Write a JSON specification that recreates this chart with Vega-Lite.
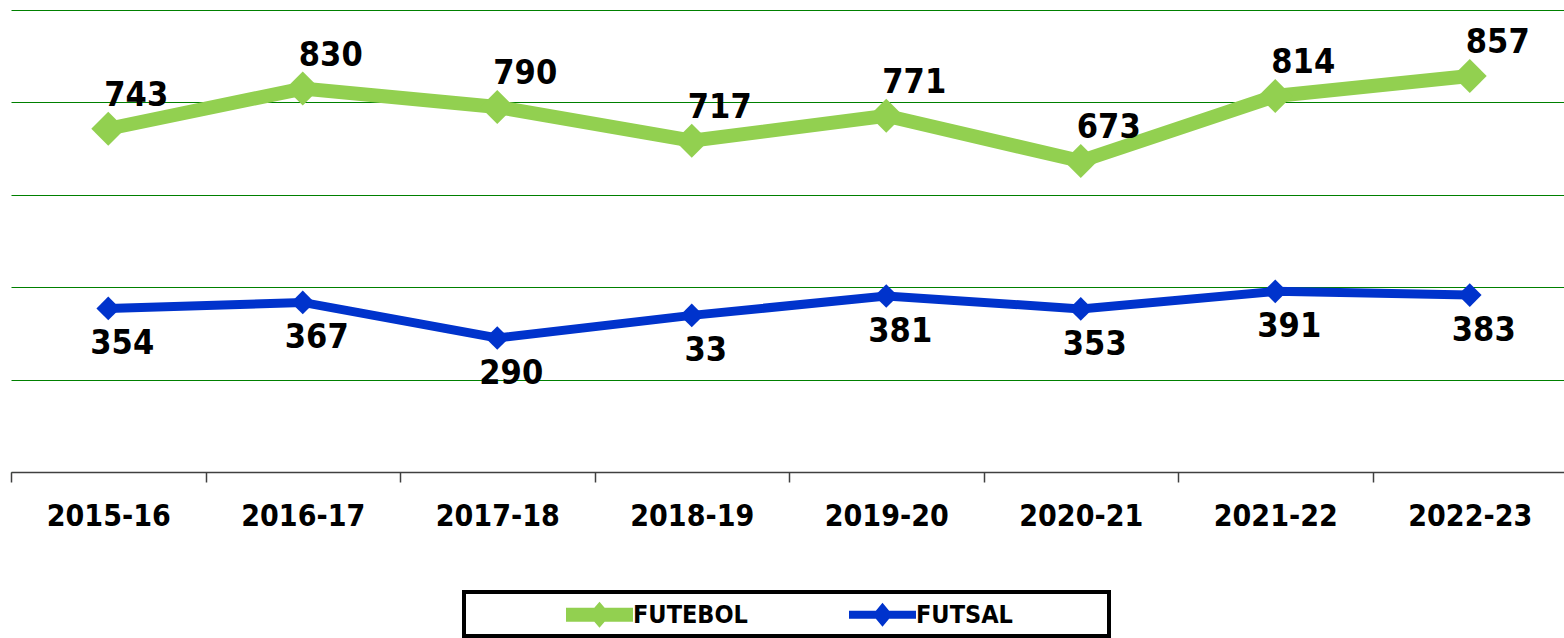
{
  "$schema": "https://vega.github.io/schema/vega-lite/v6.json",
  "width": 1556,
  "height": 462,
  "padding": {"left": 10, "top": 10, "right": 0, "bottom": 0},
  "background": "white",
  "config": {
    "view": {"stroke": null},
    "font": "DejaVu Sans Condensed, sans-serif"
  },
  "data": {
    "values": [
      {"season": "2015-16", "series": "FUTEBOL", "value": 743, "label": "743"},
      {"season": "2016-17", "series": "FUTEBOL", "value": 830, "label": "830"},
      {"season": "2017-18", "series": "FUTEBOL", "value": 790, "label": "790"},
      {"season": "2018-19", "series": "FUTEBOL", "value": 717, "label": "717"},
      {"season": "2019-20", "series": "FUTEBOL", "value": 771, "label": "771"},
      {"season": "2020-21", "series": "FUTEBOL", "value": 673, "label": "673"},
      {"season": "2021-22", "series": "FUTEBOL", "value": 814, "label": "814"},
      {"season": "2022-23", "series": "FUTEBOL", "value": 857, "label": "857"},
      {"season": "2015-16", "series": "FUTSAL", "value": 354, "label": "354"},
      {"season": "2016-17", "series": "FUTSAL", "value": 367, "label": "367"},
      {"season": "2017-18", "series": "FUTSAL", "value": 290, "label": "290"},
      {"season": "2018-19", "series": "FUTSAL", "value": 339, "label": "33"},
      {"season": "2019-20", "series": "FUTSAL", "value": 381, "label": "381"},
      {"season": "2020-21", "series": "FUTSAL", "value": 353, "label": "353"},
      {"season": "2021-22", "series": "FUTSAL", "value": 391, "label": "391"},
      {"season": "2022-23", "series": "FUTSAL", "value": 383, "label": "383"}
    ]
  },
  "encoding": {
    "x": {
      "field": "season",
      "type": "nominal",
      "sort": null,
      "scale": {"paddingInner": 0, "paddingOuter": 0},
      "axis": {
        "title": null,
        "labelAngle": 0,
        "labelFontSize": 30,
        "labelFontWeight": "bold",
        "labelColor": "black",
        "labelPadding": 19,
        "tickBand": "extent",
        "tickSize": 10,
        "tickColor": "#404040",
        "tickWidth": 1.5,
        "domainColor": "#404040",
        "domainWidth": 1.5,
        "grid": false
      }
    },
    "y": {
      "field": "value",
      "type": "quantitative",
      "scale": {"domain": [0, 1000], "nice": false},
      "axis": {
        "title": null,
        "values": [0, 200, 400, 600, 800, 1000],
        "labels": false,
        "ticks": false,
        "domain": false,
        "grid": true,
        "gridColor": "#008000",
        "gridWidth": 1.2,
        "gridOpacity": 1
      }
    },
    "color": {
      "field": "series",
      "type": "nominal",
      "scale": {"domain": ["FUTEBOL", "FUTSAL"], "range": ["#92D050", "#0033CC"]},
      "legend": {
        "title": "\u00a0",
        "titleOrient": "right",
        "titlePadding": 88,
        "titleFontSize": 10,
        "orient": "none",
        "legendX": 453,
        "legendY": 582,
        "direction": "horizontal",
        "strokeColor": "black",
        "fillColor": "white",
        "padding": 8,
        "symbolOffset": 94,
        "columnPadding": 7,
        "labelOffset": 38,
        "labelFontSize": 25,
        "labelFontWeight": "bold",
        "labelColor": "black",
        "labelLimit": 600,
        "symbolSize": 841,
        "symbolStrokeWidth": 0,
        "encode": {
          "legend": {"update": {"strokeWidth": {"value": 4}}},
          "symbols": {"update": {
            "fill": {"scale": "color", "field": "value"},
            "size": {"value": 841},
            "shape": {"signal": "datum.value == 'FUTEBOL' ? 'M-1,-0.48L0.955,-0.48L1.31,-0.9L1.665,-0.48L3.62,-0.48L3.62,0.48L1.665,0.48L1.31,0.9L0.955,0.48L-1,0.48Z' : 'M-1,-0.28L0.853,-0.28L1.31,-0.83L1.767,-0.28L3.62,-0.28L3.62,0.28L1.767,0.28L1.31,0.83L0.853,0.28L-1,0.28Z'"},
            "strokeWidth": {"value": 0},
            "opacity": {"value": 1}
          }}
        }
      }
    }
  },
  "layer": [
    {
      "transform": [{"filter": "datum.series == 'FUTEBOL'"}],
      "mark": {"type": "line", "strokeJoin": "miter", "strokeWidth": 14},
      "encoding": {}
    },
    {
      "transform": [{"filter": "datum.series == 'FUTSAL'"}],
      "mark": {"type": "line", "strokeJoin": "miter", "strokeWidth": 9},
      "encoding": {}
    },
    {
      "transform": [{"filter": "datum.series == 'FUTEBOL'"}],
      "mark": {"type": "point", "shape": "diamond", "filled": true, "opacity": 1, "size": 1150},
      "encoding": {}
    },
    {
      "transform": [{"filter": "datum.series == 'FUTSAL'"}],
      "mark": {"type": "point", "shape": "diamond", "filled": true, "opacity": 1, "size": 560},
      "encoding": {}
    },
    {
      "transform": [{"filter": "datum.series == 'FUTEBOL'"}],
      "mark": {"type": "text", "dx": 28, "dy": -33, "fontSize": 34, "fontWeight": "bold", "color": "black", "baseline": "middle"},
      "encoding": {"text": {"field": "label"}, "color": {"value": "black"}}
    },
    {
      "transform": [{"filter": "datum.series == 'FUTSAL'"}],
      "mark": {"type": "text", "dx": 14, "dy": 36, "fontSize": 34, "fontWeight": "bold", "color": "black", "baseline": "middle"},
      "encoding": {"text": {"field": "label"}, "color": {"value": "black"}}
    }
  ]
}
